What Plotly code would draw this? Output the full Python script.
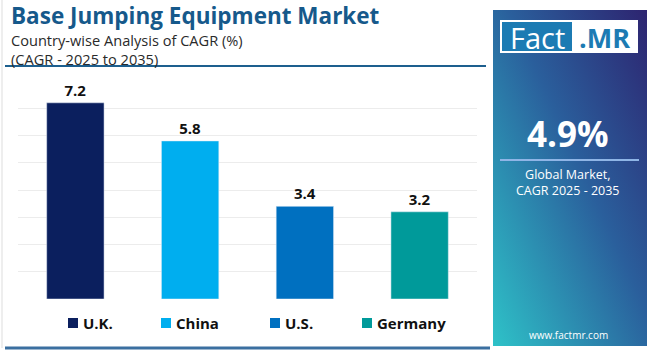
import base64
import plotly.graph_objects as go

countries = ["U.K.", "China", "U.S.", "Germany"]
cagr = [7.2, 5.8, 3.4, 3.2]
colors = ["#0b1f5e", "#00aeef", "#0070c0", "#009a9a"]
title = "Base Jumping Equipment Market"
subtitle1 = "Country-wise Analysis of CAGR (%)"
subtitle2 = "(CAGR - 2025 to 2035)"
global_cagr = "4.9%"

W, H = 650, 350
L, R, T, B = 18, 173, 81, 51
PW, PH = W - L - R, H - T - B

def px(x):
    return (x - L) / PW

def py(y):
    return (H - B - y) / PH

fig = go.Figure()
for c, v, col in zip(countries, cagr, colors):
    fig.add_trace(go.Bar(
        x=[c], y=[v], name=c, marker_color=col, width=0.5,
        text=[f"{v:.1f}"], textposition="outside", cliponaxis=False,
        textfont=dict(family="Open Sans", size=15, color="#111111", weight="bold"),
    ))

svg = """<svg xmlns='http://www.w3.org/2000/svg' width='154' height='336' preserveAspectRatio='none'>
<defs><linearGradient id='g' x1='1' y1='0' x2='0' y2='1'>
<stop offset='0' stop-color='#2d2470'/>
<stop offset='0.45' stop-color='#2a5f9c'/>
<stop offset='1' stop-color='#2ec2c8'/>
</linearGradient></defs>
<rect width='154' height='336' fill='url(#g)'/></svg>"""
uri = "data:image/svg+xml;base64," + base64.b64encode(svg.encode()).decode()

fig.update_layout(
    width=W, height=H, margin=dict(l=L, r=R, t=T, b=B, autoexpand=False),
    paper_bgcolor="white", plot_bgcolor="white",
    bargap=0.5, showlegend=False,
    xaxis=dict(showticklabels=False, showgrid=False, zeroline=False, showline=False,
               ticks=""),
    yaxis=dict(range=[0, 8], dtick=1, showticklabels=False, gridcolor="#ececec",
               gridwidth=1, zeroline=False, showline=False),
    images=[dict(source=uri, xref="paper", yref="paper", x=px(493), y=py(10),
                 sizex=154 / PW, sizey=336 / PH, xanchor="left", yanchor="top",
                 sizing="stretch", layer="below")],
)

shapes = [
    dict(type="line", x0=px(5), x1=px(486), y0=py(66), y1=py(66),
         line=dict(color="#1d5f8e", width=2)),
    dict(type="line", x0=px(5), x1=px(490), y0=py(348), y1=py(348),
         line=dict(color="#3b6fa0", width=3)),
    dict(type="line", x0=px(2), x1=px(2), y0=py(0), y1=py(348),
         line=dict(color="#dddddd", width=1)),
    dict(type="rect", x0=px(500), x1=px(638), y0=py(20), y1=py(53),
         fillcolor="white", line=dict(width=0)),
    dict(type="rect", x0=px(502), x1=px(572), y0=py(22), y1=py(51),
         fillcolor="#1c7bb3", line=dict(width=0)),
    dict(type="line", x0=px(500), x1=px(639), y0=py(160), y1=py(160),
         line=dict(color="#8fb5e6", width=2)),
]

ann = [
    dict(text=f"<b>{title}</b>", x=px(10), y=py(15), xanchor="left", yanchor="middle",
         font=dict(family="Open Sans", size=22.5, color="#16598b")),
    dict(text=f"{subtitle1}<br>{subtitle2}", x=px(10), y=py(49), xanchor="left",
         yanchor="middle", align="left",
         font=dict(family="Open Sans", size=14.6, color="#2a2a2a")),
    dict(text="Fact", x=px(537), y=py(37), xanchor="center", yanchor="middle",
         font=dict(family="Open Sans", size=29, color="white")),
    dict(text="<b>.MR</b>", x=px(604), y=py(37), xanchor="center", yanchor="middle",
         font=dict(family="Open Sans", size=27, color="#1c7bb3")),
    dict(text=f"<b>{global_cagr}</b>", x=px(568), y=py(133), xanchor="center", yanchor="middle",
         font=dict(family="Open Sans", size=35, color="white")),
    dict(text="Global Market,<br>CAGR 2025 - 2035", x=px(568), y=py(182), xanchor="center",
         yanchor="middle", font=dict(family="Open Sans", size=12.5, color="white")),
    dict(text="www.factmr.com", x=px(568), y=py(335), xanchor="center", yanchor="middle",
         font=dict(family="Open Sans", size=10, color="white")),
]

# manual legend
legend_sq_x = [68, 161, 270, 362]
for c, col, sx in zip(countries, colors, legend_sq_x):
    shapes.append(dict(type="rect", x0=px(sx), x1=px(sx + 10), y0=py(318), y1=py(328),
                       fillcolor=col, line=dict(width=0)))
    ann.append(dict(text=f"<b>{c}</b>", x=px(sx + 14), y=py(323), xanchor="left",
                    yanchor="middle",
                    font=dict(family="Open Sans", size=15, color="#111111")))

for s in shapes:
    s.update(xref="paper", yref="paper")
for a in ann:
    a.update(xref="paper", yref="paper", showarrow=False, borderpad=0)
fig.update_layout(shapes=shapes, annotations=ann)

fig.write_html("out.html")
